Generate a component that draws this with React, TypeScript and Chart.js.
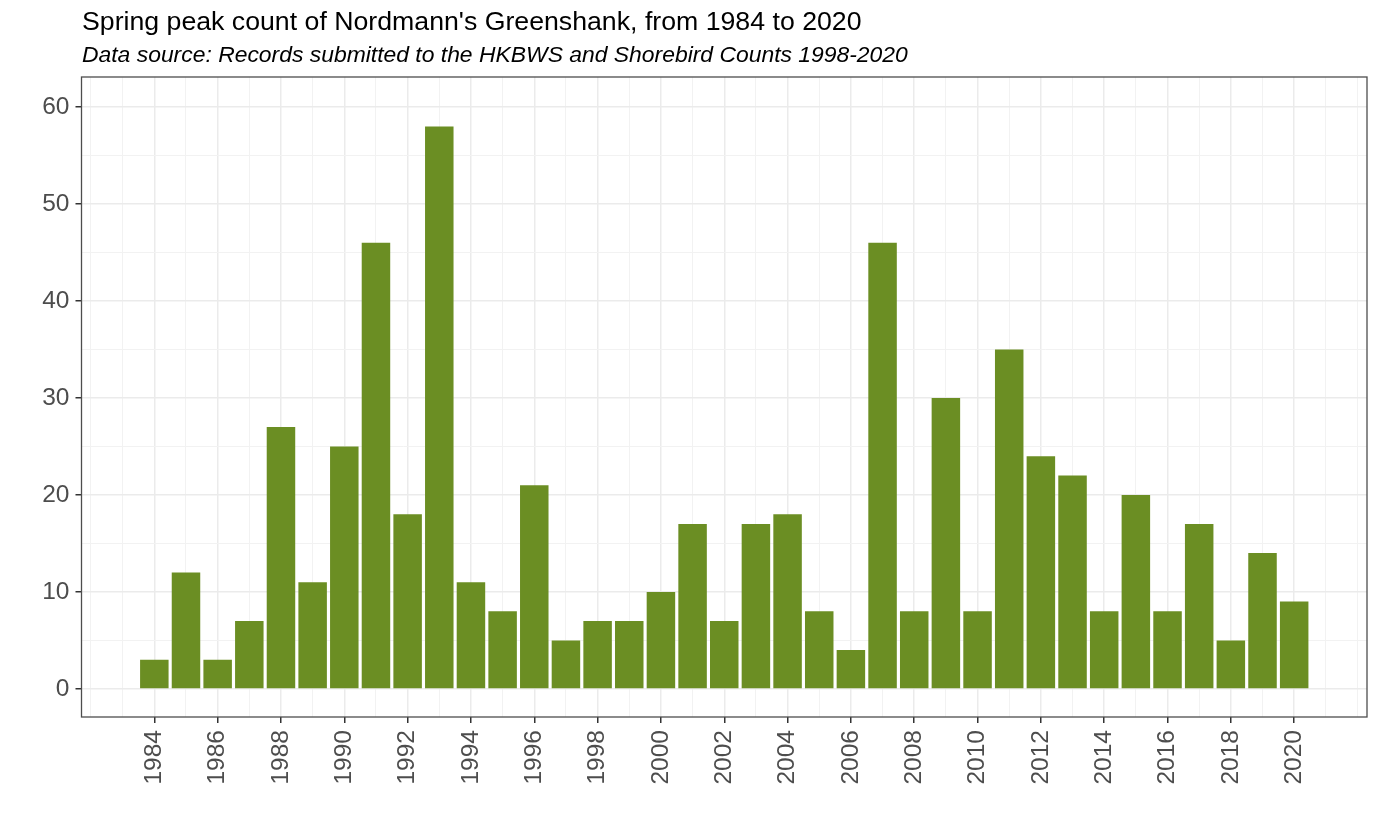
import React, { useEffect, useRef } from "react";
import { Chart, registerables } from "chart.js";

Chart.register(...registerables);

const years = [
  1984, 1985, 1986, 1987, 1988, 1989, 1990, 1991, 1992, 1993, 1994, 1995, 1996,
  1997, 1998, 1999, 2000, 2001, 2002, 2003, 2004, 2005, 2006, 2007, 2008, 2009,
  2010, 2011, 2012, 2013, 2014, 2015, 2016, 2017, 2018, 2019, 2020,
];
const counts = [
  3, 12, 3, 7, 27, 11, 25, 46, 18, 58, 11, 8, 21, 5, 7, 7, 10, 17, 7, 17, 18, 8,
  4, 46, 8, 30, 8, 35, 24, 22, 8, 20, 8, 17, 5, 14, 9,
];
const xTickLabels = [
  1984, 1986, 1988, 1990, 1992, 1994, 1996, 1998, 2000, 2002, 2004, 2006, 2008,
  2010, 2012, 2014, 2016, 2018, 2020,
];
const xGridYears = [
  1982, 1983, 1984, 1985, 1986, 1987, 1988, 1989, 1990, 1991, 1992, 1993, 1994,
  1995, 1996, 1997, 1998, 1999, 2000, 2001, 2002, 2003, 2004, 2005, 2006, 2007,
  2008, 2009, 2010, 2011, 2012, 2013, 2014, 2015, 2016, 2017, 2018, 2019, 2020,
  2021, 2022,
];
const yTickLabels = [0, 10, 20, 30, 40, 50, 60];
const yGridValues = [0, 5, 10, 15, 20, 25, 30, 35, 40, 45, 50, 55, 60];

const TITLE = "Spring peak count of Nordmann's Greenshank, from 1984 to 2020";
const SUBTITLE =
  "Data source: Records submitted to the HKBWS and Shorebird Counts 1998-2020";

const FONT = "'Liberation Sans', Arial, Helvetica, sans-serif";

export default function App() {
  const ref = useRef<HTMLCanvasElement | null>(null);

  useEffect(() => {
    if (!ref.current) return;

    const decor = {
      id: "decor",
      afterDraw(chart: any) {
        const { ctx, chartArea } = chart;
        ctx.save();
        ctx.strokeStyle = "#4D4D4D";
        ctx.lineWidth = 1.3;
        ctx.strokeRect(
          chartArea.left,
          chartArea.top,
          chartArea.right - chartArea.left,
          chartArea.bottom - chartArea.top
        );
        ctx.fillStyle = "#000000";
        ctx.textAlign = "left";
        ctx.textBaseline = "alphabetic";
        ctx.font = `26.7px ${FONT}`;
        ctx.fillText(TITLE, 82, 30);
        ctx.font = `italic 22.9px ${FONT}`;
        ctx.fillText(SUBTITLE, 82, 62);
        ctx.restore();
      },
    };

    const chart = new Chart(ref.current, {
      type: "bar",
      data: {
        datasets: [
          {
            data: years.map((y, i) => ({ x: y, y: counts[i] })),
            backgroundColor: "#6B8E23",
            borderWidth: 0,
            barPercentage: 0.9,
            categoryPercentage: 1,
          },
        ],
      },
      options: {
        animation: false,
        responsive: false,
        maintainAspectRatio: false,
        layout: { padding: { top: 77, right: 12, left: 0, bottom: 0 } },
        plugins: {
          legend: { display: false },
          tooltip: { enabled: false },
          title: { display: false },
        },
        scales: {
          x: {
            type: "linear",
            min: 1981.7,
            max: 2022.3,
            offset: false,
            afterBuildTicks: (s: any) => {
              s.ticks = xGridYears.map((v) => ({ value: v }));
            },
            afterFit: (s: any) => {
              s.height = 110;
              s.paddingLeft = 0;
              s.paddingRight = 0;
            },
            ticks: {
              autoSkip: false,
              minRotation: 90,
              maxRotation: 90,
              padding: 7,
              color: "#4D4D4D",
              font: { size: 24.5, family: FONT },
              callback: (v: any) =>
                xTickLabels.includes(Number(v)) ? String(v) : "",
            },
            grid: {
              offset: false,
              color: (c: any) =>
                c.tick && xTickLabels.includes(c.tick.value)
                  ? "#EBEBEB"
                  : "#F2F2F2",
              lineWidth: (c: any) =>
                c.tick && xTickLabels.includes(c.tick.value) ? 1.5 : 1,
              tickColor: (c: any) =>
                c.tick && xTickLabels.includes(c.tick.value)
                  ? "#333333"
                  : "rgba(0,0,0,0)",
              tickWidth: 1.5,
              tickLength: 6,
            },
            border: { display: false },
          },
          y: {
            type: "linear",
            min: -2.9,
            max: 63.1,
            afterBuildTicks: (s: any) => {
              s.ticks = yGridValues.map((v) => ({ value: v }));
            },
            afterFit: (s: any) => {
              s.width = 81.5;
              s.paddingTop = 0;
              s.paddingBottom = 0;
            },
            ticks: {
              autoSkip: false,
              padding: 6,
              color: "#4D4D4D",
              font: { size: 24.5, family: FONT },
              callback: (v: any) =>
                yTickLabels.includes(Number(v)) ? String(v) : "",
            },
            grid: {
              color: (c: any) =>
                c.tick && yTickLabels.includes(c.tick.value)
                  ? "#EBEBEB"
                  : "#F2F2F2",
              lineWidth: (c: any) =>
                c.tick && yTickLabels.includes(c.tick.value) ? 1.5 : 1,
              tickColor: (c: any) =>
                c.tick && yTickLabels.includes(c.tick.value)
                  ? "#333333"
                  : "rgba(0,0,0,0)",
              tickWidth: 1.5,
              tickLength: 6,
            },
            border: { display: false },
          },
        },
      } as any,
      plugins: [decor],
    });

    return () => chart.destroy();
  }, []);

  return (
    <div
      style={{
        position: "fixed",
        left: 0,
        top: 0,
        width: 1379,
        height: 827,
        background: "#ffffff",
      }}
    >
      <canvas
        ref={ref}
        width={1379}
        height={827}
        style={{ width: 1379, height: 827, display: "block" }}
      />
    </div>
  );
}
